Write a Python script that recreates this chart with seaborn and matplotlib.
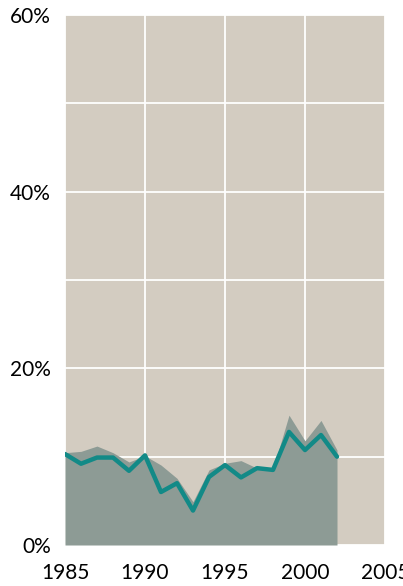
import matplotlib

matplotlib.use("Agg")

import pandas as pd
import seaborn as sns
import matplotlib.pyplot as plt
from matplotlib.ticker import FuncFormatter


years = list(range(1985, 2003))
upper_values = [10.45, 10.6, 11.2, 10.45, 9.4, 10.1, 9.05, 7.55, 4.9, 8.5,
                9.25, 9.55, 8.7, 8.6, 14.7, 11.8, 14.1, 10.75]
line_values = [10.3, 9.2, 9.9, 9.9, 8.4, 10.15, 6.0, 7.0, 3.9, 7.7,
               9.05, 7.65, 8.7, 8.5, 12.8, 10.75, 12.45, 10.0]
x_ticks = [1985, 1990, 1995, 2000, 2005]
y_ticks = [0, 20, 40, 60]

BG = "#d3ccc1"
AREA = "#8d9b95"
LINE = "#128a87"

df = pd.DataFrame({"year": years, "upper": upper_values, "value": line_values})

sns.set_theme(style="white")
plt.rcParams["font.family"] = ["Lato", "DejaVu Sans"]

fig = plt.figure(figsize=(4.03, 5.86), dpi=100)
ax = fig.add_axes([65 / 403, 41 / 586, 320 / 403, 530 / 586])
ax.set_facecolor(BG)

ax.fill_between(df["year"], 0, df["upper"], color=AREA, linewidth=0, zorder=2)
sns.lineplot(data=df, x="year", y="value", color=LINE, linewidth=3.2, ax=ax, zorder=3)

ax.set_xlim(1985, 2005)
ax.set_ylim(0, 60)
ax.set_xticks(x_ticks)
ax.set_yticks(range(0, 61, 10), minor=False)
ax.set_yticks(y_ticks)
ax.set_yticks(range(0, 61, 10), minor=True)
ax.yaxis.set_major_formatter(FuncFormatter(lambda v, _: f"{v:.0f}%"))
ax.grid(True, which="both", axis="y", color="white", linewidth=1.3, zorder=1)
ax.grid(True, which="major", axis="x", color="white", linewidth=1.3, zorder=1)
ax.set_axisbelow(True)
ax.tick_params(axis="both", which="both", length=0, labelsize=15, colors="black")
ax.tick_params(axis="x", pad=13)
ax.tick_params(axis="y", pad=10)
ax.set_xlabel("")
ax.set_ylabel("")
for side in ax.spines.values():
    side.set_visible(False)

fig.savefig("out.png", dpi=100, facecolor="white")
plt.close(fig)
